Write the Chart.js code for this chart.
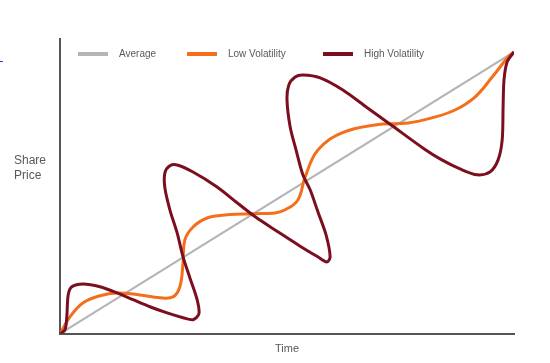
<!DOCTYPE html>
<html>
<head>
<meta charset="utf-8">
<script src="https://cdn.jsdelivr.net/npm/chart.js@4"></script>
<style>
  html, body { margin: 0; padding: 0; background: #fff; }
  #wrap { width: 550px; height: 363px; }
</style>
</head>
<body>
<div id="wrap"><canvas id="chart" width="550" height="363"></canvas></div>
<script>
// === Series names & colours ===
const seriesNames = ['Average', 'Low Volatility', 'High Volatility'];
const seriesColors = ['#b5b5b5', '#f46f1b', '#7b0f1f'];

// === Average (straight line) ===
const avgTime = [0, 100];
const avgPrice = [0, 100];

// === Low volatility (stair-step) ===
const lowTime  = [0, 2.2, 5.1, 8.8, 12.6, 17.6, 22.0, 24.9, 26.4, 27.1, 27.5, 29.3, 32.4, 36.8, 42.5, 47.4, 49.6, 52.4, 54.0, 56.8, 62.1, 69.4, 76.7, 81.9, 87.0, 91.4, 95.2, 98.7, 100];
const lowPrice = [0, 6.0, 11.0, 13.5, 14.5, 13.8, 12.8, 13.1, 16.7, 25.2, 33.3, 37.9, 41.1, 42.2, 42.6, 42.9, 44.0, 47.5, 55.7, 65.2, 71.3, 74.1, 74.8, 76.6, 79.4, 84.0, 91.1, 98.2, 100];

// === High volatility (looping path) ===
const highTime  = [0, 1.1, 1.5, 1.8, 2.6, 5.1, 8.8, 12.6, 16.1, 19.8, 23.6, 27.1, 29.3, 30.6, 30.2, 28.6, 27.1, 25.8, 24.2, 23.1, 23.1, 24.2, 25.8, 29.3, 34.6, 39.0, 43.0, 47.8, 52.9, 56.6, 58.8, 59.5, 58.6, 56.8, 55.1, 53.5, 52.0, 50.7, 50.0, 50.4, 51.8, 53.5, 57.3, 62.3, 67.6, 73.1, 80.4, 84.1, 88.1, 91.9, 94.7, 96.5, 97.4, 97.6, 97.8, 98.5, 100];
const highPrice = [0, 1.4, 6.0, 13.8, 16.7, 17.7, 16.7, 14.5, 12.1, 9.6, 7.4, 5.7, 5.0, 7.1, 12.1, 19.9, 27.3, 35.8, 44.0, 51.8, 57.1, 59.6, 59.9, 57.4, 52.1, 46.5, 41.5, 36.4, 31.1, 27.5, 25.5, 27.3, 35.1, 43.3, 51.1, 56.4, 65.2, 73.4, 83.0, 88.3, 91.1, 91.8, 90.8, 86.5, 80.3, 73.9, 65.4, 61.7, 58.5, 56.4, 57.4, 61.7, 68.8, 80.5, 90.1, 96.5, 100];

const toPoints = (xs, ys) => xs.map((x, i) => ({ x, y: ys[i] }));

const FONT = '"Liberation Sans", Arial, sans-serif';
const TEXT_COLOR = '#595959';

// === Legend & y title drawn on top of the plot ===
const overlay = {
  id: 'overlay',
  afterDraw(chart) {
    const ctx = chart.ctx;
    ctx.save();
    // legend
    const legendY = 54;
    const startX = [78, 187, 323];
    ctx.font = '10px ' + FONT;
    ctx.textBaseline = 'middle';
    seriesNames.forEach((name, i) => {
      ctx.strokeStyle = seriesColors[i];
      ctx.lineWidth = 4;
      ctx.beginPath();
      ctx.moveTo(startX[i], legendY);
      ctx.lineTo(startX[i] + 30, legendY);
      ctx.stroke();
      ctx.fillStyle = TEXT_COLOR;
      ctx.fillText(name, startX[i] + 41, legendY);
    });
    // y title (horizontal, two lines)
    ctx.font = '12px ' + FONT;
    ctx.textAlign = 'left';
    ctx.fillText('Share', 14, 161);
    ctx.fillText('Price', 14, 176);
    // small stray mark on the left edge
    ctx.strokeStyle = '#3a3af0';
    ctx.lineWidth = 1;
    ctx.beginPath();
    ctx.moveTo(0, 61.5);
    ctx.lineTo(3, 61.5);
    ctx.stroke();
    ctx.restore();
  }
};

new Chart(document.getElementById('chart'), {
  type: 'scatter',
  data: {
    datasets: [
      {
        label: seriesNames[0],
        data: toPoints(avgTime, avgPrice),
        showLine: true,
        borderColor: seriesColors[0],
        borderWidth: 2,
        pointRadius: 0,
        order: 3
      },
      {
        label: seriesNames[1],
        data: toPoints(lowTime, lowPrice),
        showLine: true,
        borderColor: seriesColors[1],
        borderWidth: 3,
        pointRadius: 0,
        tension: 0.4,
        order: 2
      },
      {
        label: seriesNames[2],
        data: toPoints(highTime, highPrice),
        showLine: true,
        borderColor: seriesColors[2],
        borderWidth: 3,
        pointRadius: 0,
        tension: 0.3,
        order: 1
      }
    ]
  },
  options: {
    responsive: false,
    animation: false,
    layout: { padding: { left: 52, right: 36, top: 39, bottom: 7 } },
    scales: {
      x: {
        type: 'linear',
        min: 0,
        max: 100,
        ticks: { display: false },
        grid: { display: false },
        border: { display: true, color: '#555', width: 2 },
        title: {
          display: true,
          text: 'Time',
          color: TEXT_COLOR,
          font: { family: FONT, size: 11 },
          padding: { top: 1, bottom: 0 }
        }
      },
      y: {
        min: 0,
        max: 104.6,
        ticks: { display: false },
        grid: { display: false },
        border: { display: true, color: '#555', width: 2 }
      }
    },
    plugins: {
      legend: { display: false },
      tooltip: { enabled: false }
    }
  },
  plugins: [overlay]
});
</script>
</body>
</html>
